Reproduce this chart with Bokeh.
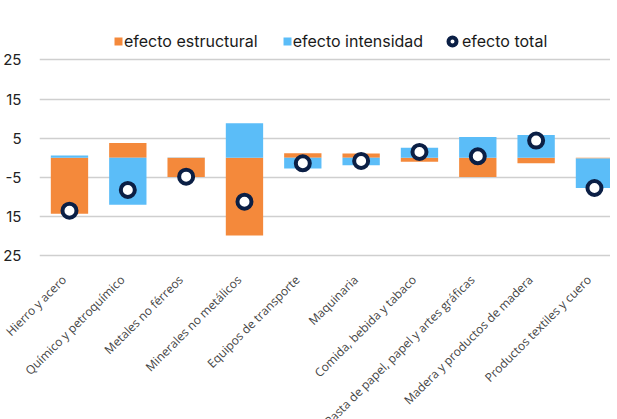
import math
from bokeh.plotting import figure
from bokeh.models import ColumnDataSource, Range1d, FixedTicker, Legend, LegendItem
from bokeh.embed import file_html
from bokeh.resources import INLINE

categories = ["Hierro y acero", "Químico y petroquímico", "Metales no férreos",
              "Minerales no metálicos", "Equipos de transporte", "Maquinaria",
              "Comida, bebida y tabaco", "Pasta de papel, papel y artes gráficas",
              "Madera y productos de madera", "Productos textiles y cuero"]
estructural = [-14.3, 3.8, -4.9, -19.8, 1.2, 1.1, -1.0, -4.9, -1.4, -0.2]
intensidad = [0.6, -12.0, 0.1, 8.8, -2.7, -1.9, 2.6, 5.3, 5.8, -7.5]
total = [-13.5, -8.2, -4.8, -11.2, -1.4, -0.8, 1.5, 0.4, 4.4, -7.7]
y_ticks = [25, 15, 5, -5, -15, -25]
y_tick_labels = ["25", "15", "5", "-5", "15", "25"]

ORANGE = "#F4893B"
BLUE = "#5BBDF8"
NAVY = "#0B1F45"

xs = list(range(len(categories)))
o_bottom = [0.0] * len(xs)
o_top = estructural
b_bottom, b_top = [], []
for e, i in zip(estructural, intensidad):
    if (e >= 0) == (i >= 0):
        b_bottom.append(e)
        b_top.append(e + i)
    else:
        b_bottom.append(0.0)
        b_top.append(i)

p = figure(frame_width=571, frame_height=240, output_backend="svg", toolbar_location=None,
           x_range=Range1d(-0.514, 9.275), y_range=Range1d(-26.2, 35.05),
           min_border_left=30, min_border_top=20, min_border_right=0, min_border_bottom=0)
p.outline_line_color = None
p.background_fill_color = "white"
p.border_fill_color = "white"

src_o = ColumnDataSource(dict(x=xs, bottom=o_bottom, top=o_top))
src_b = ColumnDataSource(dict(x=xs, bottom=b_bottom, top=b_top))
src_t = ColumnDataSource(dict(x=xs, y=total))
r_o = p.vbar(x="x", bottom="bottom", top="top", width=0.64, source=src_o, fill_color=ORANGE, line_color=None)
r_b = p.vbar(x="x", bottom="bottom", top="top", width=0.64, source=src_b, fill_color=BLUE, line_color=None)
r_t = p.scatter(x="x", y="y", source=src_t, marker="circle", size=14, fill_color="white",
                line_color=NAVY, line_width=4)

common = dict(orientation="horizontal", padding=0, margin=0, border_line_color=None,
              background_fill_alpha=0, label_text_font="Inter", label_text_font_size="16px",
              label_text_color="#1a1a1a", label_height=20)
legend1 = Legend(items=[LegendItem(label="efecto estructural", renderers=[r_o]),
                        LegendItem(label="efecto intensidad", renderers=[r_b])],
                 location=(74, 209), glyph_width=10, glyph_height=10,
                 label_standoff=1, spacing=24, **common)
legend2 = Legend(items=[LegendItem(label="efecto total", renderers=[r_t])],
                 location=(403, 209), glyph_width=20, glyph_height=20,
                 label_standoff=-4, **common)
p.add_layout(legend1)
p.add_layout(legend2)

label_shift = 0.09375  # nudge rotated labels so their ends sit at the bar centres
x_ticks = [x - label_shift for x in xs]
p.xaxis.ticker = FixedTicker(ticks=x_ticks)
p.xaxis.major_label_overrides = {t: c for t, c in zip(x_ticks, categories)}
p.xaxis.major_label_orientation = math.pi / 4
p.xaxis.major_label_text_font = "Open Sans"
p.xaxis.major_label_text_font_size = "12px"
p.xaxis.major_label_text_color = "#444444"
p.xaxis.major_label_standoff = 11
p.xaxis.axis_line_color = None
p.xaxis.major_tick_line_color = None
p.xaxis.minor_tick_line_color = None

p.yaxis.ticker = FixedTicker(ticks=y_ticks)
p.yaxis.major_label_overrides = {t: l for t, l in zip(y_ticks, y_tick_labels)}
p.yaxis.major_label_text_font = "Inter"
p.yaxis.major_label_text_font_size = "15px"
p.yaxis.major_label_text_color = "#222222"
p.yaxis.major_label_standoff = 12
p.yaxis.axis_line_color = None
p.yaxis.major_tick_line_color = None
p.yaxis.minor_tick_line_color = None

p.xgrid.grid_line_color = None
p.ygrid.grid_line_color = "#cfcfcf"
p.ygrid.grid_line_width = 1.3

open("out.html", "w").write(file_html(p, INLINE))
